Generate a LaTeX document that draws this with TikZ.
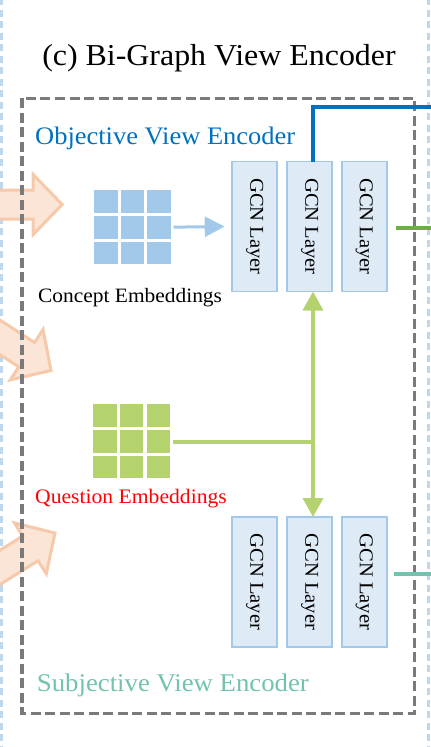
\documentclass[tikz,border=0pt]{standalone}
\usepackage{fontspec}
\setmainfont{Liberation Serif}[FakeStretch=1.05]
\usetikzlibrary{arrows.meta,calc}
\definecolor{lbdash}{HTML}{BDD7EE}
\definecolor{graydash}{HTML}{7A7A7A}
\definecolor{objblue}{HTML}{0070C0}
\definecolor{cblue}{HTML}{A3C9EA}
\definecolor{gcnfill}{HTML}{DEEBF7}
\definecolor{gcnedge}{HTML}{A3C9EA}
\definecolor{outgreen}{HTML}{70AD47}
\definecolor{qgreen}{HTML}{B4D36E}
\definecolor{subteal}{HTML}{71C3B0}
\definecolor{ofill}{HTML}{FBE5D6}
\definecolor{oedge}{HTML}{F6C9AA}
\newcommand\bigorangearrow[3]{%
  \draw[oarrow, shift={(#1,#2)}, rotate=#3]
    (0,0) -- (-29,30) -- (-29,14.5) -- (-160,14.5) -- (-160,-14.5) -- (-29,-14.5) -- (-29,-30) -- cycle;}
\newcommand\embcells[4]{%
  \foreach \ii in {0,1,2}{\foreach \jj in {0,1,2}{%
    \fill[#4] ($(#1,#2)+(\ii*#3,\jj*25.8)$) rectangle +(23.3,22.7);}}}
\begin{document}
\begin{tikzpicture}[x=1pt,y=-1pt,
  lbline/.style={draw=lbdash, line width=3.2pt, dash pattern=on 7pt off 4.5pt},
  graybox/.style={draw=graydash, line width=3.4pt, dash pattern=on 10pt off 4.5pt},
  oarrow/.style={draw=oedge, fill=ofill, line width=3pt, line join=miter},
  gcn/.style={draw=gcnedge, fill=gcnfill, line width=1.8pt, minimum width=45pt, minimum height=130pt, inner sep=0pt, outer sep=0pt},
  gcntext/.style={rotate=-90, font=\fontsize{19.6}{22}\selectfont},
  gridnode/.style={minimum width=76.3pt, minimum height=74.3pt, inner sep=0pt, outer sep=0pt},
  cconn/.style={draw=cblue, line width=3pt, -{Triangle[length=20pt,width=20pt]}},
  qconn/.style={draw=qgreen, line width=3.6pt},
  qarrow/.style={qconn, -{Triangle[length=19pt,width=20pt]}},
  objline/.style={draw=objblue, line width=4pt, line join=miter},
  outg/.style={draw=outgreen, line width=4.5pt},
  outt/.style={draw=subteal, line width=4.5pt}
]
\useasboundingbox (0,0) rectangle (431,747);
\clip (0,0) rectangle (431,747);

% outer light-blue dashed borders
\draw[lbline] (1.7,-2) -- (1.7,750);
\draw[lbline] (428.3,-2) -- (428.3,750);

% big orange input arrows
\bigorangearrow{62.2}{204.5}{0}
\bigorangearrow{51}{370.5}{-33}
\bigorangearrow{55}{533}{32}

% encoder box
\draw[graybox] (22,98.3) rectangle (414.5,713.3);

% title
\node[anchor=base, inner sep=0pt, font=\fontsize{30.4}{36}\selectfont] (title) at (219,65) {(c) Bi-Graph View Encoder};

% labels
\node[anchor=base west, inner sep=0pt, text=objblue, font=\fontsize{25.2}{30}\selectfont] (objlabel) at (35,144) {Objective View Encoder};
\node[anchor=base west, inner sep=0pt, font=\fontsize{20.4}{24}\selectfont] (clabel) at (38,302.7) {Concept Embeddings};
\node[anchor=base west, inner sep=0pt, text=red, font=\fontsize{20.6}{24}\selectfont] (qlabel) at (35,503.3) {Question Embeddings};
\node[anchor=base west, inner sep=0pt, text=subteal, font=\fontsize{25.5}{30}\selectfont] (slabel) at (36.7,691.7) {Subjective View Encoder};

% embedding grids
\node[gridnode] (cgrid) at (132.35,227.15) {};
\embcells{94.2}{190}{26.5}{cblue}
\node[gridnode] (qgrid) at (131.45,441.15) {};
\embcells{93.3}{404}{26.7}{qgreen}

% GCN layers (objective, top)
\node[gcn] (g1) at (254.7,226.5) {};
\node[gcn] (g2) at (309.7,226.5) {};
\node[gcn] (g3) at (364.2,226.5) {};
% GCN layers (subjective, bottom)
\node[gcn] (h1) at (254.7,582) {};
\node[gcn] (h2) at (309.7,582) {};
\node[gcn] (h3) at (364.2,582) {};
\foreach \n in {g1,g2,g3,h1,h2,h3}{\node[gcntext] at (\n) {GCN Layer};}

% connectors
\coordinate (j) at (313,441.7);
\coordinate (bo) at (436,107);
\coordinate (go) at (436,228);
\coordinate (tout) at (436,574);
\draw[cconn] ([xshift=3pt]cgrid.east) -- ([xshift=-7.5pt]g1.west);
\draw[qconn] ([xshift=3pt]qgrid.east |- j) -- (j);
\draw[qarrow] (j) -- (j |- g2.south);
\draw[qarrow] (j) -- (j |- h2.north);
\draw[objline] (j |- g2.north) |- (bo);
\draw[outg] ($(g3.east |- go)+(9.5,0)$) -- (go);
\draw[outt] ($(h3.east |- tout)+(7.5,0)$) -- (tout);
\end{tikzpicture}
\end{document}
